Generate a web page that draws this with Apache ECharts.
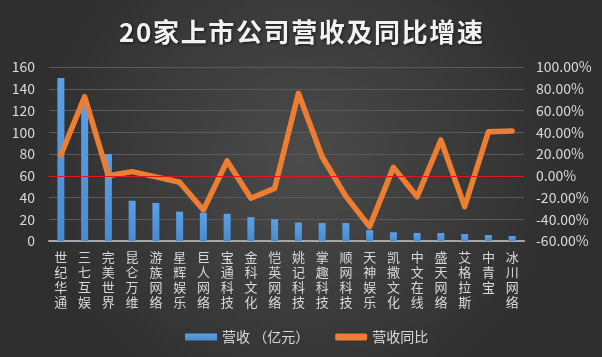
<!DOCTYPE html>
<html><head><meta charset="utf-8">
<script src="https://cdn.jsdelivr.net/npm/echarts@6/dist/echarts.min.js"></script>
<style>html,body{margin:0;padding:0;background:#333;}#c{width:602px;height:357px;}</style>
</head><body><div id="c"></div>
<script>
const categories = ['世纪华通','三七互娱','完美世界','昆仑万维','游族网络','星辉娱乐','巨人网络','宝通科技','金科文化','恺英网络','姚记科技','掌趣科技','顺网科技','天神娱乐','凯撒文化','中文在线','盛天网络','艾格拉斯','中青宝','冰川网络'];
const revenue = [150, 131, 80, 37, 35, 27, 26, 25, 22, 20, 17, 16.5, 16.5, 10, 8, 7.4, 7.4, 6.4, 5.5, 4.6];
const growth = [19, 72.7, 0, 3.8, -1, -6, -31.5, 13.6, -20.7, -11.6, 75.8, 17.5, -19, -46.8, 7.7, -19.3, 32.9, -28.4, 40.5, 41.1];
const leftTicks = [0, 160, 20];
const rightTicks = [-60, 100, 20];
const titleText = '20家上市公司营收及同比增速';

const chart = echarts.init(document.getElementById('c'));
const font = '"Microsoft YaHei","Noto Sans CJK SC",sans-serif';
chart.setOption({
  backgroundColor: {
    type: 'radial', x: 0.5, y: 0.45, r: 0.75,
    colorStops: [{offset: 0, color: '#4b4b4b'}, {offset: 1, color: '#2f2f2f'}]
  },
  animation: false,
  title: {
    text: titleText.split('').join('\u200A'),
    left: 'center', top: 14,
    textStyle: {color: '#f2f2f2', fontSize: 26, fontWeight: 'bold', fontFamily: font,
      textShadowColor: 'rgba(0,0,0,0.6)', textShadowBlur: 3, textShadowOffsetX: 1, textShadowOffsetY: 1}
  },
  legend: {
    bottom: 8, left: 180, itemGap: 26, itemWidth: 32, itemHeight: 7,
    textStyle: {color: '#d9d9d9', fontSize: 14, fontFamily: font},
    data: [
      {name: '营收 （亿元）', icon: 'rect'},
      {name: '营收同比', icon: 'roundRect'}
    ]
  },
  grid: {left: 49, right: 78, top: 67, bottom: 116},
  xAxis: {
    type: 'category', data: categories,
    axisLine: {lineStyle: {color: '#a6a6a6', width: 2}},
    axisTick: {show: false},
    axisLabel: {
      color: '#d9d9d9', fontSize: 13, fontFamily: font, interval: 0, margin: 9, lineHeight: 15,
      formatter: v => v.split('').join('\n')
    }
  },
  yAxis: [
    {type: 'value', min: leftTicks[0], max: leftTicks[1], interval: leftTicks[2],
     axisLabel: {color: '#d9d9d9', fontSize: 14, fontFamily: font, margin: 14},
     axisLine: {show: false}, axisTick: {show: false},
     splitLine: {lineStyle: {color: '#5a5a5a', width: 1}}},
    {type: 'value', min: rightTicks[0], max: rightTicks[1], interval: rightTicks[2],
     axisLabel: {color: '#d9d9d9', fontSize: 14, fontFamily: font, margin: 12,
       formatter: v => v.toFixed(2) + '%'},
     axisLine: {show: false}, axisTick: {show: false}, splitLine: {show: false}}
  ],
  series: [
    {name: '营收 （亿元）', type: 'bar', data: revenue, barWidth: 7,
     itemStyle: {color: {type: 'linear', x: 0, y: 0, x2: 0, y2: 1,
       colorStops: [{offset: 0, color: '#5aa0e6'}, {offset: 1, color: '#4a8bcf'}]}}},
    {name: '营收同比', type: 'line', yAxisIndex: 1, data: growth,
     symbol: 'none', lineStyle: {color: '#ed7d31', width: 5.5, cap: 'round', join: 'round'},
     itemStyle: {color: '#ed7d31'},
     markLine: {silent: true, symbol: 'none', label: {show: false},
       lineStyle: {color: '#e0191c', width: 1, type: 'solid'},
       data: [{yAxis: 0}]}}
  ]
});
</script></body></html>
